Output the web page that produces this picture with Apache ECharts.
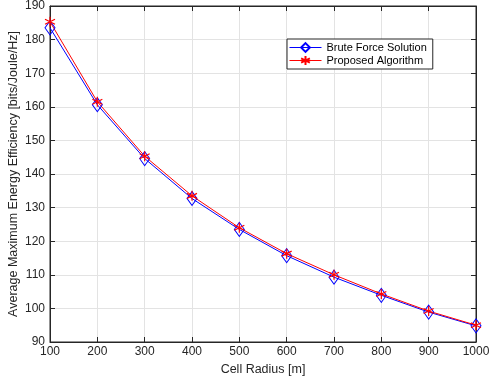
<!DOCTYPE html>
<html><head><meta charset="utf-8">
<script src="https://cdn.jsdelivr.net/npm/echarts@6/dist/echarts.min.js"></script>
<style>html,body{margin:0;padding:0;background:#fff}#c{width:490px;height:386px}</style>
</head><body><div id="c"></div>
<script>
const radii = [100, 200, 300, 400, 500, 600, 700, 800, 900, 1000];
const bruteForce = [183.5, 160.6, 144.6, 132.7, 123.5, 115.7, 109.3, 103.9, 98.9, 94.8];
const proposed = [185.3, 161.5, 145.3, 133.5, 124.0, 116.3, 110.0, 104.3, 99.2, 95.0];
const yTicks = [90, 100, 110, 120, 130, 140, 150, 160, 170, 180, 190];

const ax = '#262626';
const font = 'Liberation Sans, Arial, sans-serif';
const star = 'path://M0,-5L0,5M-4.33,-2.5L4.33,2.5M-4.33,2.5L4.33,-2.5';
const chart = echarts.init(document.getElementById('c'));
const tickStyle = {inside: true, length: 5, lineStyle: {color: ax}};
chart.setOption({
  animation: false,
  grid: {left: 50, right: 14, top: 6, bottom: 44, show: true, borderColor: ax, borderWidth: 1,
    containLabel: false, outerBoundsMode: 'none'},
  legend: {
    orient: 'vertical', left: 287, top: 39, itemGap: 2, itemWidth: 32, itemHeight: 11,
    borderColor: ax, borderWidth: 1, backgroundColor: '#fff', padding: [3, 6, 3, 2],
    lineStyle: {width: 1},
    textStyle: {fontFamily: font, fontSize: 11, color: '#000'},
    data: ['Brute Force Solution', 'Proposed Algorithm']
  },
  xAxis: [{
    type: 'value', min: 100, max: 1000, interval: 100,
    name: 'Cell Radius [m]', nameLocation: 'middle', nameGap: 21, nameMoveOverlap: false,
    nameTextStyle: {fontFamily: font, fontSize: 12.5, color: ax},
    axisLine: {show: true, lineStyle: {color: ax}}, axisTick: tickStyle,
    axisLabel: {fontFamily: font, fontSize: 12, color: ax, margin: 4, formatter: v => String(v)},
    splitLine: {show: true, lineStyle: {color: '#e3e3e3'}}
  }, {
    type: 'value', position: 'top', min: 100, max: 1000, interval: 100,
    axisLine: {show: true, lineStyle: {color: ax}}, axisTick: tickStyle,
    axisLabel: {show: false}, splitLine: {show: false}
  }],
  yAxis: [{
    type: 'value', min: 90, max: 190, interval: 10,
    name: 'Average Maximum Energy Efficiency [bits/Joule/Hz]', nameLocation: 'middle', nameGap: 30,
    nameMoveOverlap: false,
    nameTextStyle: {fontFamily: font, fontSize: 12.5, color: ax},
    axisLine: {show: true, lineStyle: {color: ax}}, axisTick: tickStyle,
    axisLabel: {fontFamily: font, fontSize: 12, color: ax, margin: 5,
      formatter: v => yTicks.includes(v) ? String(v) : ''},
    splitLine: {show: true, lineStyle: {color: '#e3e3e3'}}
  }, {
    type: 'value', position: 'right', min: 90, max: 190, interval: 10,
    axisLine: {show: true, lineStyle: {color: ax}}, axisTick: tickStyle,
    axisLabel: {show: false}, splitLine: {show: false}
  }],
  series: [{
    name: 'Brute Force Solution', type: 'line',
    data: radii.map((r, i) => [r, bruteForce[i]]),
    symbol: 'diamond', symbolSize: [10, 14], showAllSymbol: true,
    lineStyle: {color: '#0000ff', width: 1},
    itemStyle: {color: 'rgba(0,0,0,0)', borderColor: '#0000ff', borderWidth: 1}
  }, {
    name: 'Proposed Algorithm', type: 'line',
    data: radii.map((r, i) => [r, proposed[i]]),
    symbol: star, symbolSize: 10, showAllSymbol: true,
    lineStyle: {color: '#ff0000', width: 1},
    itemStyle: {color: 'rgba(0,0,0,0)', borderColor: '#ff0000', borderWidth: 1.2}
  }]
});
</script></body></html>
